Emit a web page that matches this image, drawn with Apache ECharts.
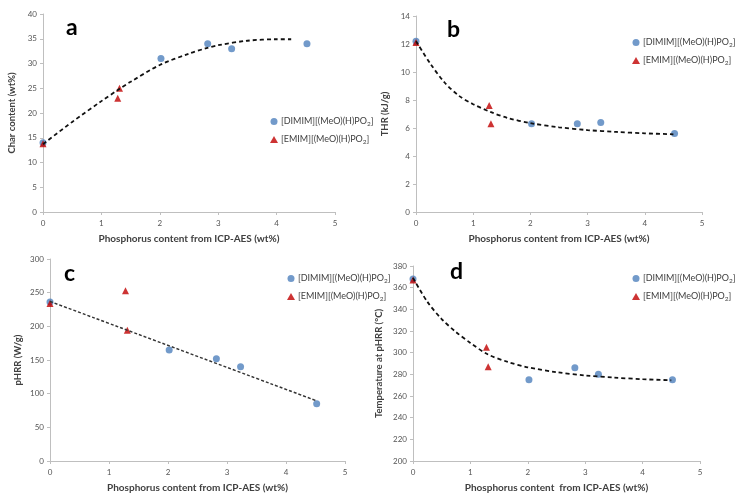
<!DOCTYPE html>
<html><head><meta charset="utf-8">
<script src="https://cdn.jsdelivr.net/npm/echarts@6/dist/echarts.min.js"></script>
<style>html,body{margin:0;padding:0;background:#fff}#c{width:741px;height:497px}</style>
</head><body><div id="c"></div>
<script>
// ---- data ----
const xTicks = [0, 1, 2, 3, 4, 5];
const dimimX = [0, 2.02, 2.82, 3.23, 4.52];
const emimX = [0, 1.28, 1.31];

const charDimim = [14, 31, 34, 33, 34];
const charEmim = [13.8, 23, 25];
const charFitX = [0, 0.5, 1, 1.3, 1.5, 2, 2.5, 2.8, 3, 3.5, 4, 4.25];
const charFitY = [13.7, 18.2, 22.4, 24.8, 26.3, 29.7, 32.0, 33.1, 33.7, 34.6, 34.9, 34.9];

const thrDimim = [12.2, 6.3, 6.3, 6.4, 5.6];
const thrEmim = [12.1, 7.6, 6.3];
const thrFitX = [0, 0.25, 0.5, 0.75, 1, 1.3, 1.6, 2, 2.5, 3, 3.5, 4, 4.5];
const thrFitY = [12.2, 10.6, 9.25, 8.3, 7.7, 7.15, 6.72, 6.35, 6.05, 5.85, 5.72, 5.62, 5.55];

const phrrDimim = [236, 165, 152, 140, 85];
const phrrEmim = [234, 253, 194];
const phrrFitX = [0, 4.5];
const phrrFitY = [237, 90];

const tempDimim = [368, 275, 286, 280, 275];
const tempEmim = [367, 305, 287];
const tempFitX = [0, 0.25, 0.5, 0.75, 1, 1.3, 1.65, 2, 2.5, 3, 3.5, 4, 4.5];
const tempFitY = [369, 347, 331, 319, 309, 298.5, 291.5, 286.5, 282, 279, 277, 275.5, 274.5];

const nameDimim = 'DIMIM';
const nameEmim = 'EMIM';
const yNames = ['Char content (wt%)', 'THR (kJ/g)', 'pHRR (W/g)', 'Temperature at pHRR (°C)'];
const xNames = ['Phosphorus content from ICP-AES (wt%)', 'Phosphorus content from ICP-AES (wt%)',
  'Phosphorus content from ICP-AES (wt%)', 'Phosphorus content  from ICP-AES (wt%)'];
const panelLabels = ['a', 'b', 'c', 'd'];
const yRanges = [[0, 40, 5], [0, 14, 2], [0, 300, 50], [200, 380, 20]];

// ---- layout ----
const FONT = 'Lato, "Liberation Sans", sans-serif';
const grids = [
  { left: 43, top: 14, width: 292, height: 198 },
  { left: 416, top: 16, width: 286, height: 196 },
  { left: 50, top: 259, width: 295, height: 202 },
  { left: 413, top: 266, width: 287, height: 195 }
];
const legendPos = [
  { left: 265, top: 112 },
  { left: 627, top: 33 },
  { left: 282, top: 269 },
  { left: 627, top: 269 }
];
const labelPos = [[66, 16], [447, 18], [64, 262], [450, 260]];
const yNameGap = [26, 26, 27, 29];

const zip = (xs, ys) => xs.map((x, i) => [x, ys[i]]);
const sets = [
  [charDimim, charEmim, zip(charFitX, charFitY)],
  [thrDimim, thrEmim, zip(thrFitX, thrFitY)],
  [phrrDimim, phrrEmim, zip(phrrFitX, phrrFitY)],
  [tempDimim, tempEmim, zip(tempFitX, tempFitY)]
];

const axisLineStyle = { color: '#bfbfbf', width: 1 };
const xAxis = [], yAxis = [], series = [], legend = [], graphic = [];
grids.forEach((g, i) => {
  xAxis.push({
    type: 'value', gridIndex: i, min: 0, max: 5, interval: 1,
    name: xNames[i], nameLocation: 'middle', nameGap: 22,
    nameTextStyle: { fontFamily: FONT, fontSize: 10, fontWeight: 'bold', color: '#404040' },
    axisLine: { show: true, lineStyle: axisLineStyle },
    axisTick: { show: true, length: 3, lineStyle: axisLineStyle },
    axisLabel: { fontFamily: FONT, fontSize: 8, color: '#555', margin: 7 },
    splitLine: { show: false }
  });
  yAxis.push({
    type: 'value', gridIndex: i, min: yRanges[i][0], max: yRanges[i][1], interval: yRanges[i][2],
    name: yNames[i], nameLocation: 'middle', nameGap: yNameGap[i], nameRotate: 90,
    nameTextStyle: { fontFamily: FONT, fontSize: 9.5, fontWeight: 'bold', color: '#404040' },
    axisLine: { show: true, lineStyle: axisLineStyle },
    axisTick: { show: true, length: 3, lineStyle: axisLineStyle },
    axisLabel: { fontFamily: FONT, fontSize: 8, color: '#555', margin: 6 },
    splitLine: { show: false }
  });
  const [d, e, f] = sets[i];
  series.push({
    name: nameDimim, type: 'scatter', xAxisIndex: i, yAxisIndex: i,
    symbol: 'circle', symbolSize: 7, itemStyle: { color: '#4f81bd' },
    data: zip(dimimX, d), z: 2
  });
  series.push({
    name: nameEmim, type: 'scatter', xAxisIndex: i, yAxisIndex: i,
    symbol: 'triangle', symbolSize: 7, itemStyle: { color: '#c00000' },
    data: zip(emimX, e), z: 3
  });
  series.push({
    name: 'fit' + i, type: 'line', xAxisIndex: i, yAxisIndex: i,
    smooth: 0.3, showSymbol: false, symbol: 'none',
    lineStyle: i === 2 ? { color: '#333', width: 1.5, type: [3, 2] } : { color: '#111', width: 1.8, type: [4, 3] },
    data: f, z: 4, silent: true
  });
  legend.push({
    left: legendPos[i].left, top: legendPos[i].top, orient: 'vertical',
    itemGap: 8, itemWidth: 8, itemHeight: 7,
    data: [nameDimim, nameEmim],
    formatter: n => n === nameDimim ? '[DIMIM][(MeO)(H)PO{s|2}]' : '[EMIM][(MeO)(H)PO{s|2}]',
    textStyle: {
      fontFamily: FONT, fontSize: 9, color: '#404040', padding: [0, 0, 0, -2],
      rich: { s: { fontFamily: FONT, fontSize: 6.5, color: '#404040', verticalAlign: 'bottom', padding: [4, 0, 0, 0] } }
    }
  });
  graphic.push({
    type: 'text', left: labelPos[i][0], top: labelPos[i][1],
    style: { text: panelLabels[i], font: 'bold 23px ' + FONT, fill: '#000' }
  });
});

const chart = echarts.init(document.getElementById('c'), null, { renderer: 'canvas' });
chart.setOption({
  animation: false,
  backgroundColor: '#fff',
  grid: grids.map(g => Object.assign({ containLabel: false }, g)),
  xAxis, yAxis, series, legend, graphic
});
</script>
</body></html>
